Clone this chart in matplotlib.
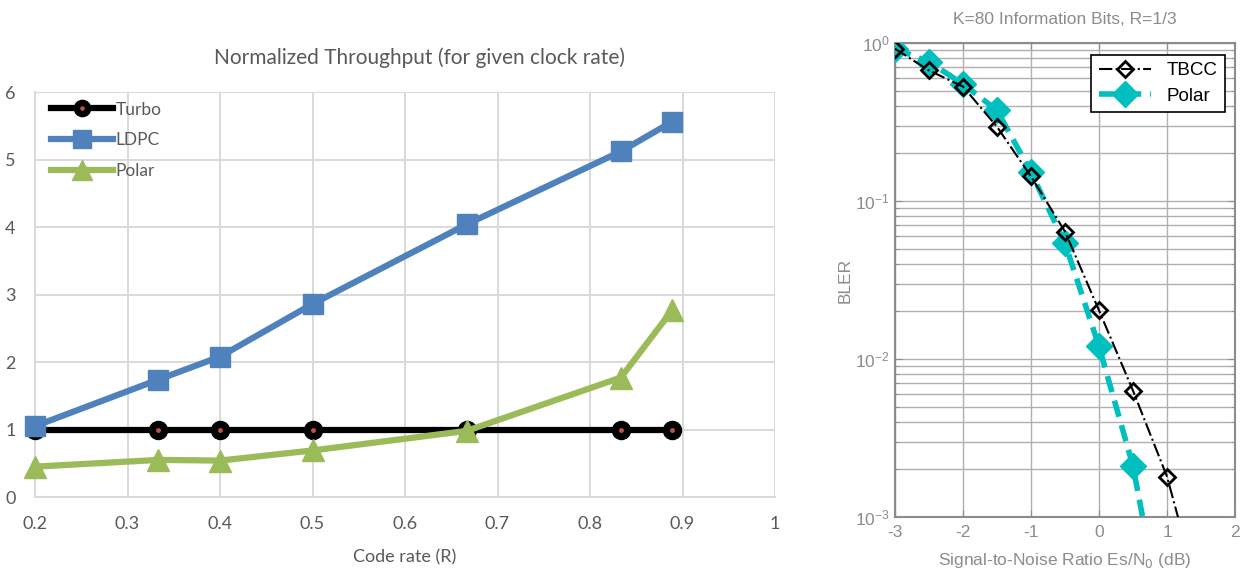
import matplotlib
matplotlib.use("Agg")
import matplotlib.pyplot as plt
from matplotlib.legend_handler import HandlerTuple

plt.rcParams["axes.unicode_minus"] = False

# left chart: normalized throughput vs code rate
rate = [0.2, 1/3, 0.4, 0.5, 2/3, 5/6, 8/9]
turbo = [1, 1, 1, 1, 1, 1, 1]
ldpc = [1.05, 1.74, 2.08, 2.86, 4.04, 5.12, 5.56]
polar_tp = [0.45, 0.55, 0.54, 0.69, 0.98, 1.77, 2.77]

# right chart: BLER vs SNR
snr_tbcc = [-3, -2.5, -2, -1.5, -1, -0.5, 0, 0.5, 1, 1.5]
bler_tbcc = [0.92, 0.67, 0.53, 0.295, 0.143, 0.064, 0.0203, 0.0063, 0.0018, 0.00029]
snr_polar = [-3, -2.5, -2, -1.5, -1, -0.5, 0, 0.5, 1]
bler_polar = [0.92, 0.76, 0.55, 0.375, 0.152, 0.054, 0.012, 0.0021, 0.00015]

fig = plt.figure(figsize=(12.43, 5.73), dpi=100)

# ---- left ----
ax = fig.add_axes([0.0282, 0.1326, 0.5953, 0.7068])
lbl = "#595959"
grid = "#d9d9d9"
cal = "Lato"

l1, = ax.plot(rate, turbo, color="black", lw=4.5, marker="o", ms=13, zorder=3)
d1, = ax.plot(rate, turbo, ls="none", marker="o", ms=2.5, color="#c0504d", zorder=3.1)
l2, = ax.plot(rate, ldpc, color="#4f81bd", lw=4.5, marker="s", ms=14, zorder=4)
l3, = ax.plot(rate, polar_tp, color="#9bbb59", lw=4.5, marker="^", ms=16, zorder=5)

ax.set_xlim(0.2, 1.0)
ax.set_ylim(0, 6)
ax.set_xticks([0.2, 0.3, 0.4, 0.5, 0.6, 0.7, 0.8, 0.9, 1])
ax.set_xticklabels(["0.2", "0.3", "0.4", "0.5", "0.6", "0.7", "0.8", "0.9", "1"])
ax.set_yticks(range(7))
ax.grid(True, color=grid, lw=1.4)
ax.set_axisbelow(True)
for s in ["top", "right"]:
    ax.spines[s].set_visible(False)
for s in ["left", "bottom"]:
    ax.spines[s].set_color(grid)
    ax.spines[s].set_linewidth(1.4)
ax.tick_params(length=0, labelcolor=lbl, labelsize=13, pad=14)
ax.tick_params(axis="y", pad=14)
for t in ax.get_xticklabels() + ax.get_yticklabels():
    t.set_fontfamily(cal)
ax.set_title("Normalized Throughput (for given clock rate)", color=lbl, fontsize=15,
             fontfamily=cal, pad=20, x=0.519)
ax.set_xlabel("Code rate (R)", color=lbl, fontsize=13, fontfamily=cal, labelpad=12)
for ln in (l1, d1, l2, l3):
    ln.set_clip_on(False)

leg = ax.legend([(l1, d1), l2, l3], ["Turbo", "LDPC", "Polar"],
                handler_map={tuple: HandlerTuple(ndivide=1, pad=0)},
                loc="upper left", bbox_to_anchor=(0.0, 1.015), frameon=False,
                handlelength=3.6, handletextpad=0.15, labelspacing=0.85,
                prop={"family": cal, "size": 12.5}, labelcolor=lbl, markerscale=0.9)

# ---- right ----
ax2 = fig.add_axes([0.72, 0.0977, 0.2736, 0.8273])
g2 = "#8c8c8c"
ax2.plot(snr_tbcc, bler_tbcc, color="black", ls="-.", lw=1.5, marker="D", ms=8,
         mfc="none", mec="black", mew=2, zorder=4)
ax2.plot(snr_polar, bler_polar, color="#00bfbf", ls=(0, (3, 1.6)), lw=4, marker="D",
         ms=13, zorder=3)
ax2.set_yscale("log")
ax2.set_xlim(-3, 2)
ax2.set_ylim(1e-3, 1)
ax2.set_xticks([-3, -2, -1, 0, 1, 2])
ax2.grid(True, which="major", color="#b0b0b0", lw=1.0)
ax2.grid(True, which="minor", color="#b0b0b0", lw=1.0)
ax2.set_axisbelow(True)
for s in ax2.spines.values():
    s.set_color(g2)
    s.set_linewidth(1.5)
ax2.tick_params(which="both", direction="in", top=True, right=True, colors=g2,
                labelsize=12.5, labelcolor=g2)
ax2.tick_params(which="major", length=5)
ax2.tick_params(which="minor", length=3)
ax2.tick_params(axis="x", pad=6)
for t in ax2.get_xticklabels() + ax2.get_yticklabels():
    t.set_fontfamily("Liberation Sans")
ax2.set_title("K=80 Information Bits, R=1/3", color=g2, fontsize=12.5,
              fontfamily="Liberation Sans", pad=14)
ax2.set_xlabel("Signal-to-Noise Ratio Es/N$_0$ (dB)", color=g2, fontsize=12.5,
               fontfamily="Liberation Sans", labelpad=8)
ax2.set_ylabel("BLER", color=g2, fontsize=12.5, fontfamily="Liberation Sans", labelpad=2)
leg2 = ax2.legend(["TBCC", "Polar"], loc="upper right", bbox_to_anchor=(0.997, 0.995),
                  fancybox=False, edgecolor="black", framealpha=1,
                  prop={"family": "Liberation Sans", "size": 13.5}, handlelength=2.8,
                  borderpad=0.4, labelspacing=0.45)
leg2.get_frame().set_linewidth(1.2)

fig.savefig("out.png", dpi=100)
